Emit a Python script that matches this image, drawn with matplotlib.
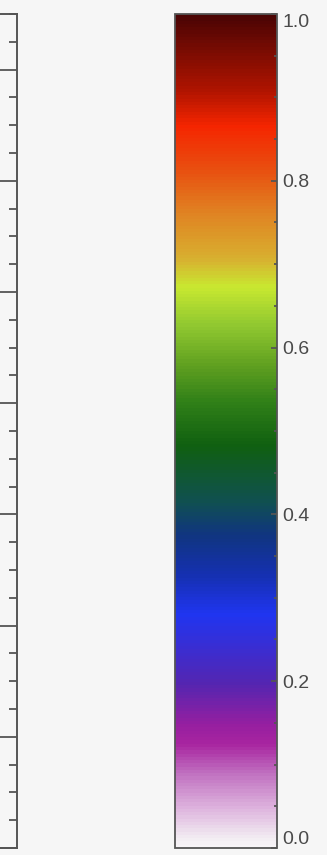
import numpy as np
import matplotlib
matplotlib.use('Agg')
import matplotlib.pyplot as plt
from matplotlib.colors import LinearSegmentedColormap, Normalize
from matplotlib.cm import ScalarMappable
from matplotlib.ticker import MultipleLocator

# colour stops (value, hex)
stop_values = [0.0, 0.01, 0.048, 0.088, 0.123, 0.147, 0.195, 0.279, 0.327, 0.375,
               0.415, 0.483, 0.535, 0.579, 0.627, 0.673, 0.707, 0.763, 0.813,
               0.867, 0.909, 1.0]
stop_colors = ['#f7f4f7', '#f2ecf2', '#dcb0dc', '#c070c0', '#a825a0', '#951fa0',
               '#5525b0', '#2035f0', '#1530b0', '#103580', '#105050', '#106010',
               '#308018', '#60a020', '#90c830', '#c8e830', '#d8b030', '#e08222',
               '#e85010', '#f52500', '#b01400', '#4a0404']

cbar_ticks = [0.0, 0.2, 0.4, 0.6, 0.8, 1.0]
cbar_labels = ['0.0', '0.2', '0.4', '0.6', '0.8', '1.0']

# left panel axis (only its right edge is visible)
left_range = (0.0, 7.5)

bg = '#f6f6f6'
edge = '#555555'
txt = '#4a4a4a'

fig = plt.figure(figsize=(3.27, 8.55), dpi=100, facecolor=bg)

bot = (855 - 848) / 855
top = (855 - 14) / 855

ax = fig.add_axes([-0.6, bot, 17 / 327 + 0.6, top - bot], facecolor=bg)
ax.set_ylim(*left_range)
ax.yaxis.set_major_locator(MultipleLocator(1))
ax.yaxis.set_minor_locator(MultipleLocator(0.25))
ax.yaxis.tick_right()
ax.tick_params(axis='y', which='major', direction='in', length=18, width=1.3,
               color=edge, labelright=False)
ax.tick_params(axis='y', which='minor', direction='in', length=6, width=1.3,
               color=edge)
ax.set_xticks([])
for s in ax.spines.values():
    s.set_color(edge)
    s.set_linewidth(1.4)

cax = fig.add_axes([175 / 327, bot, 102 / 327, top - bot])
cmap = LinearSegmentedColormap.from_list('idl_like', list(zip(stop_values, stop_colors)), N=256)
sm = ScalarMappable(norm=Normalize(0, 1), cmap=cmap)
cb = fig.colorbar(sm, cax=cax, orientation='vertical')
cb.set_ticks(cbar_ticks)
cb.set_ticklabels(cbar_labels)
cb.ax.yaxis.set_minor_locator(MultipleLocator(0.05))
cb.ax.tick_params(which='major', direction='in', length=4, width=1.3, color=edge,
                  labelsize=14, labelcolor=txt, pad=4)
cb.ax.tick_params(which='minor', direction='in', length=2, width=1.3, color=edge)
labels = cb.ax.get_yticklabels()
for lab in labels:
    lab.set_fontfamily('Liberation Sans')
labels[0].set_va('bottom')
labels[-1].set_va('top')
cb.outline.set_edgecolor(edge)
cb.outline.set_linewidth(1.3)

fig.savefig('out.png', dpi=100, facecolor=bg)
